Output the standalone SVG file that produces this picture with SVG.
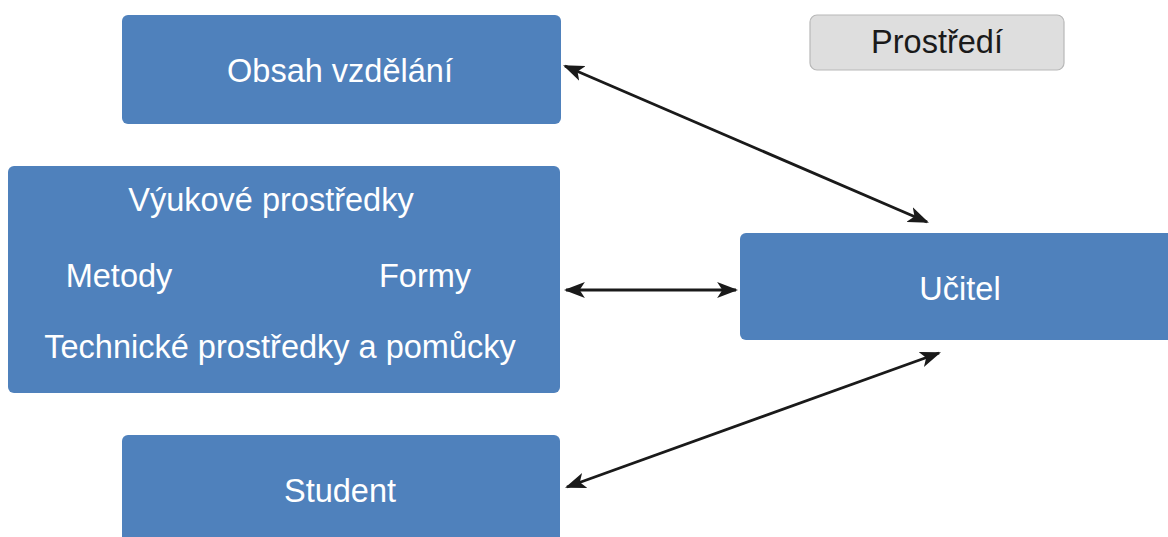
<svg xmlns="http://www.w3.org/2000/svg" width="1168" height="537" viewBox="0 0 1168 537">
<style>
.box{fill:#4f81bc;}
.env{fill:#dedede;stroke:#b8b8b8;stroke-width:1.2;}
.t{font-family:"Liberation Sans",Arial,sans-serif;font-size:32.5px;fill:#ffffff;text-anchor:middle;}
.d{fill:#1a1a1a;}
.c{stroke:#1a1a1a;stroke-width:2.8;fill:none;marker-start:url(#ah);marker-end:url(#ah);}
</style>
<defs>
<marker id="ah" viewBox="0 0 10 10" refX="9" refY="5" markerWidth="21" markerHeight="16" markerUnits="userSpaceOnUse" orient="auto-start-reverse" preserveAspectRatio="none">
<path d="M0,0 L10,5 L0,10 L2.5,5 Z" fill="#1a1a1a"/>
</marker>
</defs>
<rect width="1168" height="537" fill="#ffffff"/>
<g id="obsah">
<rect class="box" x="122" y="15" width="439" height="109" rx="6"/>
<text class="t" x="340" y="82">Obsah vzdělání</text>
</g>
<g id="prostredi">
<rect class="env" x="810" y="15" width="254" height="55" rx="7"/>
<text class="t d" x="937" y="53">Prostředí</text>
</g>
<g id="vyukove">
<rect class="box" x="8" y="166" width="552" height="227" rx="6"/>
<text class="t" x="271" y="211">Výukové prostředky</text>
<text class="t" x="119" y="287">Metody</text>
<text class="t" x="425" y="287">Formy</text>
<text class="t" x="280" y="358">Technické prostředky a pomůcky</text>
</g>
<g id="ucitel">
<rect class="box" x="740" y="233" width="436" height="107" rx="6"/>
<text class="t" x="960" y="300">Učitel</text>
</g>
<g id="student">
<rect class="box" x="122" y="435" width="438" height="120" rx="6"/>
<text class="t" x="340" y="502">Student</text>
</g>
<g id="connectors">
<line class="c" x1="565" y1="66" x2="927" y2="222"/>
<line class="c" x1="566" y1="290" x2="736" y2="290"/>
<line class="c" x1="567" y1="487" x2="939" y2="353"/>
</g>
</svg>
